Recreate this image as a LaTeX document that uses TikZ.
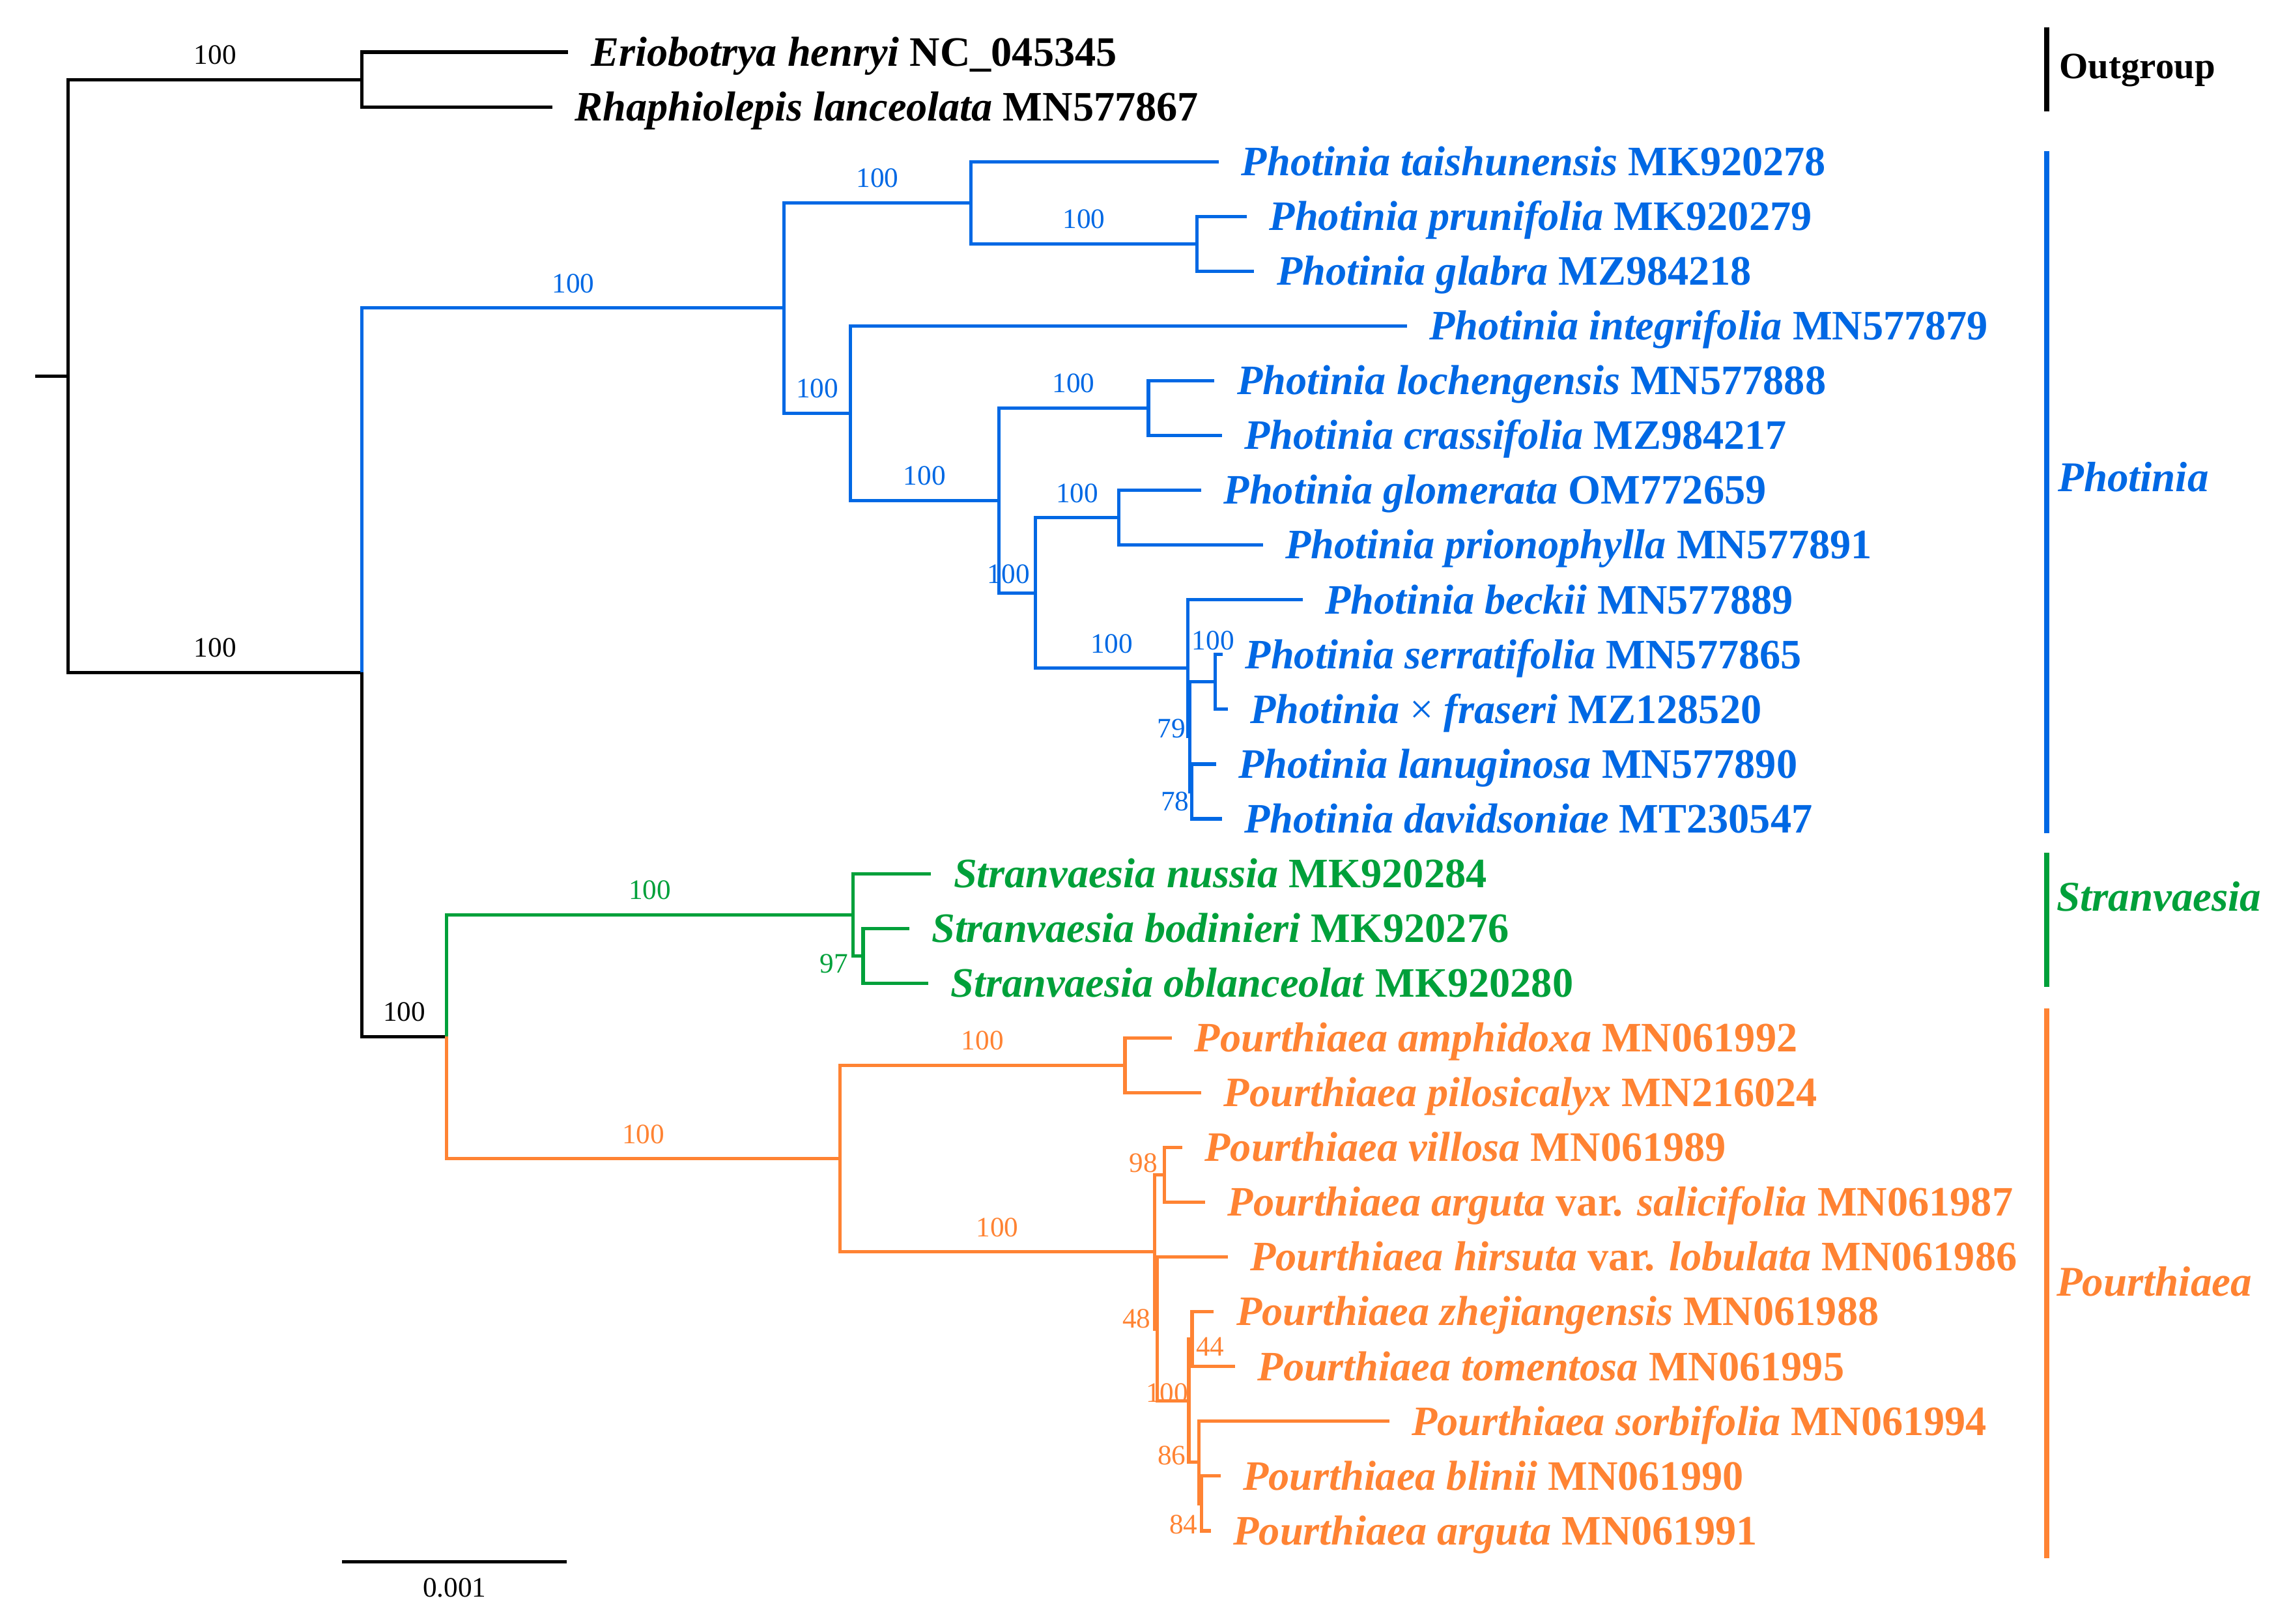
\documentclass[tikz,border=0pt]{standalone}
\usepackage{fontspec}
\setmainfont{Liberation Serif}
\usetikzlibrary{positioning}

\definecolor{photblue}{RGB}{0,104,228}
\definecolor{stragreen}{RGB}{0,160,58}
\definecolor{pouorange}{RGB}{255,131,51}

\newcommand{\taxname}[2]{\textit{#1} #2}

\tikzset{
  br/.style={line width=1.45pt},
  bar/.style={line width=2.3pt},
  taxon/.style={anchor=west, inner xsep=3.4mm, inner ysep=0pt,
    text height=12.1pt, text depth=0pt,
    font=\fontsize{18.3}{20}\selectfont\bfseries},
  sup/.style={inner sep=0pt, font=\fontsize{12.3}{14}\selectfont},
  mid/.style={sup, pos=0.75, anchor=base, yshift=2.35mm},
  clade/.style={anchor=west, inner sep=0pt, text depth=0pt,
    font=\fontsize{18.5}{20}\selectfont\bfseries\itshape}
}

\begin{document}
\begin{tikzpicture}[x=0.22545mm, y=-8.407mm]
\useasboundingbox (0,0.048) rectangle (1560,29.690);

% inner nodes
\coordinate (stub) at (23.8,6.912);
\coordinate (root) at (46.5,6.912);
\coordinate (out) at (246.5,1.5);
\coordinate (ing) at (246.5,12.324);
\coordinate (phot) at (534,5.672);
\coordinate (pU) at (661,3.75);
\coordinate (pPG) at (815,4.5);
\coordinate (pL) at (579,7.594);
\coordinate (pM) at (680,9.188);
\coordinate (pLC) at (782,7.5);
\coordinate (pN) at (705,10.875);
\coordinate (pGP) at (762,9.5);
\coordinate (pA) at (808.8,12.25);
\coordinate (pB) at (810,13.5);
\coordinate (pSF) at (827.5,12.5);
\coordinate (pC) at (811.3,14.5);
\coordinate (sp) at (304,18.977);
\coordinate (stra) at (581,16.75);
\coordinate (sSB) at (587.7,17.5);
\coordinate (pou) at (572,21.203);
\coordinate (qAP) at (766,19.5);
\coordinate (qJ) at (786,22.906);
\coordinate (qV) at (793,21.5);
\coordinate (qI) at (788,24.313);
\coordinate (qD) at (809.5,25.625);
\coordinate (qE) at (811.7,24.5);
\coordinate (qF) at (816.3,26.75);
\coordinate (qG) at (818,27.5);

% tips
\node[taxon] (eri) at (387,1) {\taxname{Eriobotrya henryi}{NC\_045345}};
\node[taxon] (rha) at (376,2) {\taxname{Rhaphiolepis lanceolata}{MN577867}};
\begin{scope}[photblue]
\node[taxon] (tai) at (830,3) {\taxname{Photinia taishunensis}{MK920278}};
\node[taxon] (pru) at (849,4) {\taxname{Photinia prunifolia}{MK920279}};
\node[taxon] (gla) at (854,5) {\taxname{Photinia glabra}{MZ984218}};
\node[taxon] (int) at (958,6) {\taxname{Photinia integrifolia}{MN577879}};
\node[taxon] (loc) at (827,7) {\taxname{Photinia lochengensis}{MN577888}};
\node[taxon] (cra) at (832,8) {\taxname{Photinia crassifolia}{MZ984217}};
\node[taxon] (glo) at (818,9) {\taxname{Photinia glomerata}{OM772659}};
\node[taxon] (pri) at (860,10) {\taxname{Photinia prionophylla}{MN577891}};
\node[taxon] (bec) at (887,11) {\taxname{Photinia beckii}{MN577889}};
\node[taxon] (ser) at (832.6,12) {\taxname{Photinia serratifolia}{MN577865}};
\node[taxon] (fra) at (836,13) {\textit{Photinia} {\mdseries×} \textit{fraseri} MZ128520};
\node[taxon] (lan) at (828,14) {\taxname{Photinia lanuginosa}{MN577890}};
\node[taxon] (dav) at (832,15) {\taxname{Photinia davidsoniae}{MT230547}};
\end{scope}
\begin{scope}[stragreen]
\node[taxon] (nus) at (634,16) {\taxname{Stranvaesia nussia}{MK920284}};
\node[taxon] (bod) at (619,17) {\taxname{Stranvaesia bodinieri}{MK920276}};
\node[taxon] (obl) at (632,18) {\taxname{Stranvaesia oblanceolat}{MK920280}};
\end{scope}
\begin{scope}[pouorange]
\node[taxon] (amp) at (798,19) {\taxname{Pourthiaea amphidoxa}{MN061992}};
\node[taxon] (pil) at (818,20) {\taxname{Pourthiaea pilosicalyx}{MN216024}};
\node[taxon] (vil) at (805,21) {\taxname{Pourthiaea villosa}{MN061989}};
\node[taxon] (sal) at (820.6,22) {\textit{Pourthiaea arguta} var. \textit{salicifolia} MN061987};
\node[taxon] (hir) at (836,23) {\textit{Pourthiaea hirsuta} var. \textit{lobulata} MN061986};
\node[taxon] (zhe) at (826.5,24) {\taxname{Pourthiaea zhejiangensis}{MN061988}};
\node[taxon] (tom) at (841,25) {\taxname{Pourthiaea tomentosa}{MN061995}};
\node[taxon] (sor) at (946,26) {\taxname{Pourthiaea sorbifolia}{MN061994}};
\node[taxon] (bli) at (831,27) {\taxname{Pourthiaea blinii}{MN061990}};
\node[taxon] (arg) at (824.5,28) {\taxname{Pourthiaea arguta}{MN061991}};
\end{scope}

% black branches
\draw[br] (stub) -- (root);
\draw[br] (root) |- (out) node[mid] {100};
\draw[br] (root) |- (ing) node[mid] {100};
\draw[br] (ing) |- (sp) node[mid] {100};
\foreach \p/\t in {out/eri, out/rha}
  \draw[br] (\p) |- (\t.west);

% Photinia
\begin{scope}[photblue]
\draw[br] (ing) |- (phot) node[mid] {100};
\draw[br] (phot) |- (pU) node[mid] {100};
\draw[br] (pU) |- (pPG) node[mid] {100};
\draw[br] (phot) |- (pL) node[mid] {100};
\draw[br] (pL) |- (pM) node[mid] {100};
\draw[br] (pM) |- (pLC) node[mid] {100};
\draw[br] (pM) |- (pN);
\draw[br] (pN) |- (pGP) node[mid] {100};
\draw[br] (pN) |- (pA) node[mid] {100};
\draw[br] (pA) |- (pB);
\draw[br] (pB) |- (pSF);
\draw[br] (pB) |- (pC);
\foreach \p/\t in {pU/tai, pPG/pru, pPG/gla, pL/int, pLC/loc, pLC/cra,
    pGP/glo, pGP/pri, pA/bec, pSF/ser, pSF/fra, pC/lan, pC/dav}
  \draw[br] (\p) |- (\t.west);
\node[sup] (sN) at (686.8,10.533) {100};
\node[sup] (sSF) at (826,11.740) {100};
\node[sup] (sB) at (797.7,13.349) {79};
\node[sup] (sC) at (800,14.679) {78};
\end{scope}

% Stranvaesia
\begin{scope}[stragreen]
\draw[br] (sp) |- (stra) node[mid] {100};
\draw[br] (stra) |- (sSB);
\foreach \p/\t in {stra/nus, sSB/bod, sSB/obl}
  \draw[br] (\p) |- (\t.west);
\node[sup] (sSB97) at (568,17.640) {97};
\end{scope}

% Pourthiaea
\begin{scope}[pouorange]
\draw[br] (sp) |- (pou) node[mid] {100};
\draw[br] (pou) |- (qAP) node[mid] {100};
\draw[br] (pou) |- (qJ) node[mid] {100};
\draw[br] (qJ) |- (qV);
\draw[br] (qJ) |- (qI);
\draw[br] (qI) |- (qD);
\draw[br] (qD) |- (qE);
\draw[br] (qD) |- (qF);
\draw[br] (qF) |- (qG);
\foreach \p/\t in {qAP/amp, qAP/pil, qV/vil, qV/sal, qI/hir, qE/zhe,
    qE/tom, qF/sor, qG/bli, qG/arg}
  \draw[br] (\p) |- (\t.west);
\node[sup] (sV) at (778.5,21.287) {98};
\node[sup] (sI) at (774,24.129) {48};
\node[sup] (sE) at (824,24.639) {44};
\node[sup] (sD) at (794.6,25.486) {100};
\node[sup] (sF) at (797.8,26.623) {86};
\node[sup] (sG) at (805.8,27.883) {84};
\end{scope}

% clade bars
\coordinate (ogA) at (1393.5,0.544);
\coordinate (ogB) at (1393.5,2.086);
\coordinate (phA) at (1393.5,2.810);
\coordinate (phB) at (1393.5,15.266);
\coordinate (stA) at (1393.5,15.618);
\coordinate (stB) at (1393.5,18.069);
\coordinate (poA) at (1393.5,18.466);
\coordinate (poB) at (1393.5,28.500);
\draw[bar] (ogA) -- (ogB);
\draw[bar, photblue] (phA) -- (phB);
\draw[bar, stragreen] (stA) -- (stB);
\draw[bar, pouorange] (poA) -- (poB);
\node[clade, text height=10.7pt, font=\fontsize{16.2}{18}\selectfont\bfseries] (ogl) at (1402,1.255) {Outgroup};
\node[clade, text height=12.2pt, photblue] (phl) at (1401,8.763) {Photinia};
\node[clade, text height=12.2pt, stragreen] (stl) at (1400,16.433) {Stranvaesia};
\node[clade, text height=12.2pt, pouorange] (pol) at (1400,23.459) {Pourthiaea};

% scale bar
\coordinate (sbL) at (233,28.567);
\coordinate (sbR) at (386,28.567);
\draw[br] (sbL) -- (sbR);
\node[sup] (sbl) at (309.5,29.037) {0.001};
\end{tikzpicture}
\end{document}
